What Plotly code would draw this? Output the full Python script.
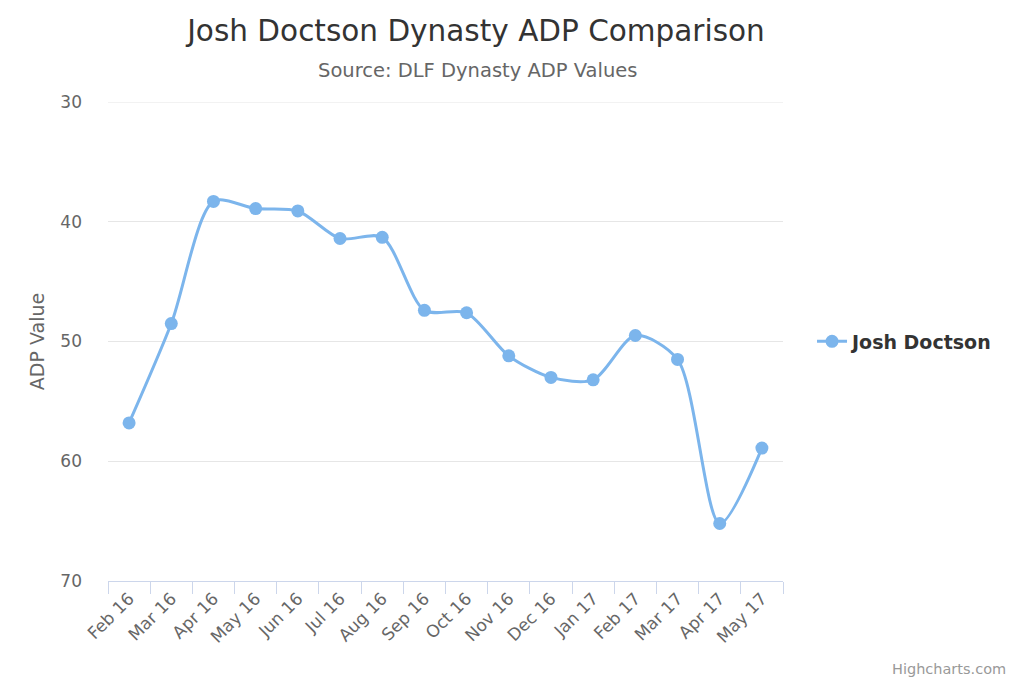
import plotly.graph_objects as go

months = ["Feb 16", "Mar 16", "Apr 16", "May 16", "Jun 16", "Jul 16", "Aug 16", "Sep 16",
          "Oct 16", "Nov 16", "Dec 16", "Jan 17", "Feb 17", "Mar 17", "Apr 17", "May 17"]
adp = [56.8, 48.5, 38.3, 38.9, 39.1, 41.4, 41.3, 47.4, 47.6, 51.2, 53.0, 53.2, 49.5, 51.5, 65.2, 58.9]
series_name = "Josh Doctson"
y_ticks = [30, 40, 50, 60, 70]

FONT = "DejaVu Sans, Open Sans, sans-serif"

fig = go.Figure()
fig.add_trace(go.Scatter(
    x=months, y=adp, name=series_name, mode="lines+markers",
    line=dict(color="#7cb5ec", width=3, shape="spline", smoothing=0.8),
    marker=dict(color="#7cb5ec", size=13),
))

fig.update_layout(
    width=1024, height=683,
    margin=dict(l=108, r=241, t=102, b=102),
    paper_bgcolor="white", plot_bgcolor="white",
    font=dict(family=FONT, color="#666666"),
    title=dict(text="Josh Doctson Dynasty ADP Comparison", x=476 / 1024, xanchor="center",
               y=1 - 31 / 683, yanchor="middle", font=dict(size=29.5, color="#333333", family=FONT)),
    showlegend=True,
    legend=dict(x=1.043, y=0.5, xanchor="left", yanchor="middle",
                font=dict(size=19, color="#333333", family=FONT, weight="bold")),
    shapes=[dict(type="line", xref="paper", yref="y", x0=0, x1=1, y0=y_ticks[0], y1=y_ticks[0],
                 line=dict(color="#e6e6e6", width=1), layer="below")],
    annotations=[
        dict(text="Source: DLF Dynasty ADP Values", xref="paper", yref="paper",
             x=(477 - 108) / 675, y=1 + (102 - 70) / 479, xanchor="center", yanchor="middle",
             showarrow=False, font=dict(size=19.5, color="#666666", family=FONT)),
        dict(text="Highcharts.com", xref="paper", yref="paper",
             x=(1008 - 108) / 675, y=-(669 - 581) / 479, xanchor="right", yanchor="middle",
             showarrow=False, font=dict(size=14.5, color="#999999", family=FONT)),
    ],
)

fig.update_xaxes(
    type="category", tickson="boundaries", ticks="outside", ticklen=12, tickcolor="#ccd6eb",
    showline=True, linecolor="#ccd6eb", linewidth=1, showgrid=False,
    tickangle=-45, tickfont=dict(size=17, color="#666666", family=FONT),
    range=[-0.5, len(months) - 0.5], automargin=False,
)
fig.update_yaxes(
    range=[70, 30], tickvals=y_ticks, showgrid=True, gridcolor="#e6e6e6", gridwidth=1,
    zeroline=False, showline=False, ticks="", ticklabelstandoff=25, automargin=False,
    tickfont=dict(size=17, color="#666666", family=FONT),
    title=dict(text="ADP Value", font=dict(size=19, color="#666666", family=FONT), standoff=10),
)

fig.write_html("out.html", config={"displayModeBar": False},
               post_script="document.body.style.margin='0';")
